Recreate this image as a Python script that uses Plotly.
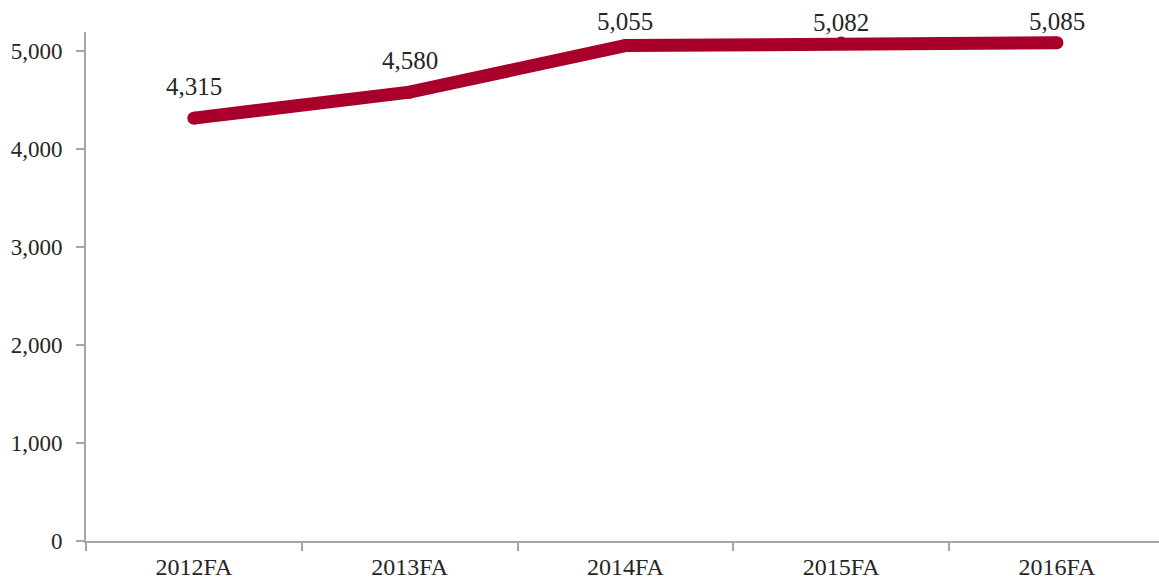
import plotly.graph_objects as go

categories = ["2012FA", "2013FA", "2014FA", "2015FA", "2016FA"]
values = [4315, 4580, 5055, 5082, 5085]
y_ticks = [0, 1000, 2000, 3000, 4000, 5000]

W, H = 1159, 582
M_L, M_R, M_T, M_B = 86, 0, 32, 41
Y_MAX = 5194
plot_h = H - M_T - M_B
px_per_unit = plot_h / Y_MAX

line_color = "#a8002a"
axis_color = "#a6a6a6"
font = "Liberation Serif"
text_color = "#262626"
FS = 25

fig = go.Figure()
fig.add_trace(go.Scatter(
    x=categories, y=values, mode="lines+markers",
    line=dict(color=line_color, width=13),
    marker=dict(color=line_color, size=13, line=dict(width=0)),
    hoverinfo="skip", showlegend=False, cliponaxis=False,
))

for c, v in zip(categories, values):
    point_px = M_T + (Y_MAX - v) * px_per_unit
    shift = min(32, point_px - 22)
    fig.add_annotation(x=c, y=v, text=f"{v:,}", showarrow=False,
                       yshift=shift, font=dict(family=font, size=FS, color=text_color))

fig.update_layout(
    width=W, height=H,
    margin=dict(l=M_L, r=M_R, t=M_T, b=M_B, pad=0, autoexpand=False),
    paper_bgcolor="white", plot_bgcolor="white",
    font=dict(family=font, size=FS, color=text_color),
    hovermode=False,
)
fig.update_xaxes(
    type="category", range=[-0.5, 4.473], automargin=False,
    showline=True, linecolor=axis_color, linewidth=2,
    ticks="outside", tickson="boundaries", ticklen=8, tickwidth=2, tickcolor=axis_color,
    tickfont=dict(size=24),
    showgrid=False, zeroline=False, ticklabelstandoff=3,
)
fig.update_yaxes(
    range=[0, Y_MAX], tickvals=y_ticks, tickformat=",", automargin=False,
    showline=True, linecolor=axis_color, linewidth=2,
    ticks="outside", ticklen=8, tickwidth=2, tickcolor=axis_color,
    tickfont=dict(size=23),
    showgrid=False, zeroline=False, ticklabelstandoff=9,
)

fig.write_html("out.html", config={"displayModeBar": False, "staticPlot": True},
               post_script="document.body.style.margin='0';document.body.style.overflow='hidden';")
